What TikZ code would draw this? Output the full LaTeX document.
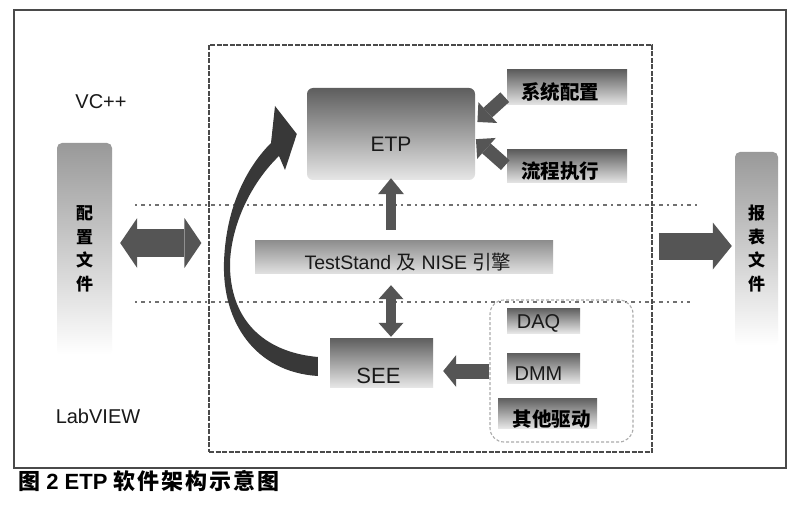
\documentclass[tikz,border=0pt]{standalone}
\usepackage{fontspec}
\setmainfont{Liberation Sans}
\newfontfamily\cjk{Noto Sans CJK SC}
\newfontfamily\cjkwide{Noto Sans CJK SC}[LetterSpace=9]
\usetikzlibrary{arrows.meta,calc}
\definecolor{boxdark}{HTML}{5E5E5E}
\definecolor{boxlight}{HTML}{E6E6E6}
\definecolor{arrowc}{HTML}{555555}
\definecolor{curvec}{HTML}{383838}
\definecolor{framec}{HTML}{4A4A4A}
\definecolor{dotc}{HTML}{707070}
\newcommand{\fs}[1]{\fontsize{#1}{#1}\selectfont}
\begin{document}
\begin{tikzpicture}[x=1pt,y=-1pt,
  gbox/.style={rectangle, inner sep=0pt, draw=none, top color=boxdark, bottom color=boxlight},
  lat/.style={font=\fs{20}, text=black!90},
  zh/.style={font=\cjk\bfseries\fs{19.5}, text=black},
  harrow/.style={draw=arrowc, line width=27pt, -{Triangle[length=19pt,width=47pt,line width=0pt]}},
  dharrow/.style={draw=arrowc, line width=28pt, {Triangle[length=17pt,width=50pt,line width=0pt]}-{Triangle[length=17pt,width=50pt,line width=0pt]}},
  varrow/.style={draw=arrowc, line width=10pt, -{Triangle[length=16pt,width=26pt,line width=0pt]}},
  dvarrow/.style={draw=arrowc, line width=10pt, {Triangle[length=14pt,width=25pt,line width=0pt]}-{Triangle[length=14pt,width=25pt,line width=0pt]}},
  sarrow/.style={draw=arrowc, line width=15pt, -{Triangle[length=13pt,width=32pt,line width=0pt]}},
  darrow/.style={draw=arrowc, line width=13pt, -{Triangle[length=14pt,width=28pt,line width=0pt]}},
  dotline/.style={draw=dotc, line width=1.2pt, dash pattern=on 2pt off 4pt on 4pt off 4pt}
]
\useasboundingbox (0,0) rectangle (800,505);
\fill[white] (0,0) rectangle (800,505);

% frames
\node[draw=framec, line width=1.8pt, minimum width=772pt, minimum height=458pt, inner sep=0pt] (outer) at (400,239) {};
\node[draw=framec, line width=1.2pt, dash pattern=on 5pt off 1.5pt, minimum width=443pt, minimum height=407pt, inner sep=0pt] (inner) at (430.5,248.5) {};

% dotted lines
\draw[dotline] (135,205) -- (700,205);
\draw[dotline] (135,302) -- (690,302);

% side boxes
\node[gbox, top color=gray!80, bottom color=white, rounded corners=5pt, minimum width=55pt, minimum height=212pt,
      align=center, font=\cjk\bfseries\fontsize{17}{23.5}\selectfont] (cfg) at (84.5,249) {配\\置\\文\\件};
\node[gbox, top color=gray!80, bottom color=white, rounded corners=5pt, minimum width=43pt, minimum height=193pt,
      align=center, font=\cjk\bfseries\fontsize{17}{23.5}\selectfont] (rpt) at (756.5,248.5) {报\\表\\文\\件};

\node[lat] (vc) at (101,102) {VC++};
\node[lat] (lab) at (98,416) {LabVIEW};

% main boxes
\node[gbox, rounded corners=6pt, minimum width=168pt, minimum height=92pt,
      label={[lat, font=\fs{21}, yshift=-10pt]center:ETP}] (etp) at (391,134) {};
\node[gbox, minimum width=120pt, minimum height=35pt,
      label={[zh, yshift=-5pt, xshift=-7pt]center:系统配置}] (sys) at (567,87.5) {};
\node[gbox, minimum width=120pt, minimum height=33pt,
      label={[zh, yshift=-5pt, xshift=-7pt]center:流程执行}] (flow) at (567,166.5) {};
\node[gbox, top color=gray!90, bottom color=gray!25, minimum width=298pt, minimum height=33pt,
      label={[lat, font=\fs{19.5}, yshift=-6pt, xshift=4pt]center:TestStand {\cjk 及} NISE {\cjk 引擎}}] (ts) at (404,256.5) {};
\node[gbox, minimum width=103pt, minimum height=49pt,
      label={[lat, font=\fs{22}, yshift=-13pt, xshift=-3pt]center:SEE}] (see) at (381.5,362.5) {};

% driver group
\node[draw=gray!65, line width=1.1pt, densely dashed, rounded corners=14pt, minimum width=143pt, minimum height=142pt, inner sep=0pt] (drv) at (561.5,371) {};
\node[gbox, minimum width=73pt, minimum height=25pt,
      label={[lat, yshift=-3pt, xshift=-5pt]center:DAQ}] (daq) at (543.5,320.5) {};
\node[gbox, minimum width=73pt, minimum height=30pt,
      label={[lat, yshift=-6pt, xshift=-5pt]center:DMM}] (dmm) at (543.5,368) {};
\node[gbox, minimum width=99pt, minimum height=30pt,
      label={[zh, yshift=-6pt, xshift=4pt]center:其他驱动}] (oth) at (547.5,413) {};

% connectors
\draw[dharrow, shorten <=8pt, shorten >=7pt] ([yshift=6pt]cfg.east) -- ([yshift=6pt]cfg.east -| inner.west);
\draw[harrow, shorten <=6pt, shorten >=3pt] ([yshift=2.5pt]rpt.west -| inner.east) -- ([yshift=2.5pt]rpt.west);
\draw[darrow, shorten >=3pt] ([shift={(-2,-8)}]sys.south west) -- ([yshift=10pt]etp.east);
\draw[darrow, shorten <=2pt, shorten >=1pt] (flow.west) -- ([yshift=-4.5pt]etp.east);
\draw[varrow, shorten <=10pt, shorten >=-2pt] (etp.south |- ts.north) -- (etp.south);
\draw[dvarrow, shorten <=12pt, shorten >=1pt] (etp.south |- ts.south) -- (etp.south |- see.north);
\draw[sarrow, shorten >=10pt] ([yshift=-8.5pt]see.east -| drv.west) -- ([yshift=-8.5pt]see.east);

% curved arrow from SEE to ETP
\fill[curvec] ([shift={(-12,13.5)}]see.west)
  .. controls (255,372) and (222,322) .. (224,262)
  .. controls (226,205) and (248,166) .. (271,143)
  -- (275,106) -- ([shift={(-10,0)}]etp.west) -- (285,170) -- (279,156)
  .. controls (254,180) and (232,220) .. (230,262)
  .. controls (229,318) and (262,352) .. ([shift={(-12,-5.5)}]see.west) -- cycle;

% caption
\node[anchor=west, inner sep=0pt, font=\bfseries\fs{22}] (cap) at (18,481) {{\cjk\bfseries 图} 2 ETP {\cjkwide\bfseries 软件架构示意图}};
\end{tikzpicture}
\end{document}
